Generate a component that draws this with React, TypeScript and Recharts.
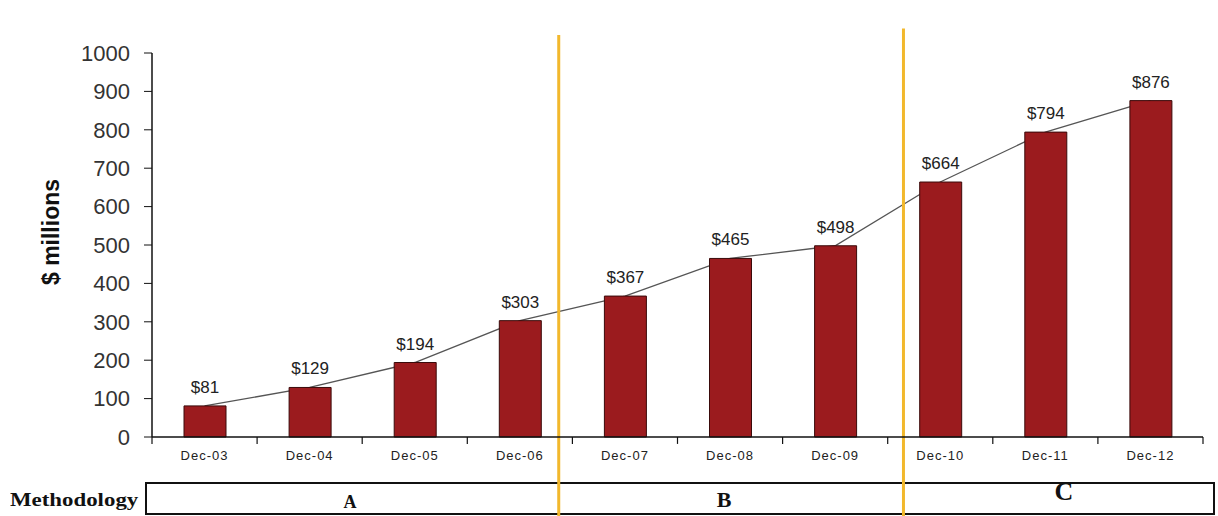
import React from 'react';
import {
    ComposedChart,
    Bar,
    Line,
    XAxis,
    YAxis,
    LabelList,
    ReferenceLine,
} from 'recharts';

// chart values
const PERIODS = ['Dec-03', 'Dec-04', 'Dec-05', 'Dec-06', 'Dec-07', 'Dec-08', 'Dec-09', 'Dec-10', 'Dec-11', 'Dec-12'];
const VALUES = [81, 129, 194, 303, 367, 465, 498, 664, 794, 876];
const Y_TICKS = [0, 100, 200, 300, 400, 500, 600, 700, 800, 900, 1000];

// methodology split (A / B / C) and where the orange dividers sit, in category units
const METHODS = ['A', 'B', 'C'];
const DIVIDERS = [
    { x: 3.87, top: 1047 },
    { x: 7.15, top: 1064 },
];

const COLORS = {
    bar: '#9B1B1E',
    barEdge: '#3A0A0A',
    line: '#555555',
    divider: '#F2B82C',
    text: '#222222',
};

const FONT = '"Liberation Sans", Arial, sans-serif';
const W = 1218;
const H = 516;
const M = { top: 53, right: 15, left: 0, bottom: 49 };
const Y_AXIS_W = 152;
const X_AXIS_H = 30;

// pos = centre of each category on a 0..N numeric scale (used for dividers and boundary ticks)
const data = PERIODS.map((p, i) => ({ period: p, value: VALUES[i], pos: i + 0.5 }));
const boundaries = Array.from({ length: PERIODS.length + 1 }, (_, i) => i);

const methodStyles: React.CSSProperties[] = [
    { left: 350, top: 493, fontSize: 18 },
    { left: 724, top: 489, fontSize: 22 },
    { left: 1064, top: 479, fontSize: 26 },
];

const App: React.FC = () => {
    return (
        <div style={{ position: 'absolute', left: 0, top: 0, width: W, height: H, background: '#fff' }}>
            {/* methodology strip under the chart */}
            <div
                style={{
                    position: 'absolute',
                    left: 10,
                    top: 490,
                    fontFamily: '"Liberation Serif", serif',
                    fontWeight: 700,
                    fontSize: 18,
                    transform: 'scaleX(1.27)',
                    transformOrigin: 'left center',
                    color: '#111',
                }}
            >
                Methodology
            </div>
            <div
                style={{
                    position: 'absolute',
                    left: 145,
                    top: 482,
                    width: 1066,
                    height: 29,
                    border: '2px solid #111',
                }}
            />
            {METHODS.map((m, i) => (
                <div
                    key={m}
                    style={{
                        position: 'absolute',
                        transform: 'translateX(-50%)',
                        fontFamily: '"Liberation Serif", serif',
                        fontWeight: 700,
                        color: '#111',
                        lineHeight: 1,
                        ...methodStyles[i],
                    }}
                >
                    {m}
                </div>
            ))}

            {/* trend line sits behind the bars, so it gets its own layer underneath */}
            <div style={{ position: 'absolute', left: 0, top: 0 }}>
                <ComposedChart
                    width={W}
                    height={H}
                    data={data}
                    margin={{ top: M.top, right: M.right, left: M.left + Y_AXIS_W, bottom: M.bottom + X_AXIS_H }}
                >
                    <XAxis dataKey="period" hide />
                    <YAxis domain={[0, 1000]} hide />
                    <Bar dataKey="value" fill="transparent" barSize={42} isAnimationActive={false} />
                    <Line
                        type="linear"
                        dataKey="value"
                        stroke={COLORS.line}
                        strokeWidth={1.3}
                        dot={false}
                        activeDot={false}
                        isAnimationActive={false}
                    />
                </ComposedChart>
            </div>

            <div style={{ position: 'absolute', left: 0, top: 0 }}>
                <ComposedChart width={W} height={H} data={data} margin={M}>
                    <XAxis
                        dataKey="period"
                        axisLine={{ stroke: '#111', strokeWidth: 1.5 }}
                        tickLine={false}
                        height={X_AXIS_H}
                        tick={{ fontSize: 13, fill: COLORS.text, letterSpacing: 1, fontFamily: FONT }}
                        tickMargin={8}
                        interval={0}
                    />
                    <XAxis
                        xAxisId="pos"
                        dataKey="pos"
                        type="number"
                        domain={[0, PERIODS.length]}
                        allowDataOverflow
                        hide
                    />
                    <YAxis
                        domain={[0, 1000]}
                        ticks={Y_TICKS}
                        width={Y_AXIS_W}
                        axisLine={{ stroke: '#111', strokeWidth: 1.5 }}
                        tickLine={{ stroke: '#111' }}
                        tickSize={8}
                        tickMargin={14}
                        tick={{ fontSize: 22, fill: '#333', fontFamily: FONT }}
                        label={{
                            value: '$ millions',
                            content: () => (
                                <text
                                    transform="translate(51,232) rotate(-90)"
                                    textAnchor="middle"
                                    dominantBaseline="central"
                                    style={{ fontSize: 23, fontWeight: 700, fill: '#111', fontFamily: FONT }}
                                >
                                    $ millions
                                </text>
                            ),
                        }}
                    />

                    {/* category boundary tick marks (Excel style) */}
                    {boundaries.map((b) => (
                        <ReferenceLine
                            key={`tick-${b}`}
                            xAxisId="pos"
                            segment={[{ x: b, y: 0 }, { x: b, y: -18 }]}
                            stroke="#111"
                            strokeWidth={1.2}
                            ifOverflow="visible"
                        />
                    ))}

                    <Bar
                        dataKey="value"
                        fill={COLORS.bar}
                        stroke={COLORS.barEdge}
                        strokeWidth={1}
                        barSize={42}
                        isAnimationActive={false}
                    >
                        <LabelList
                            dataKey="value"
                            position="top"
                            offset={13}
                            formatter={(v: any) => `$${v}`}
                            style={{ fontSize: 17, fill: COLORS.text, fontFamily: FONT }}
                        />
                    </Bar>

                    {DIVIDERS.map((d, i) => (
                        <ReferenceLine
                            key={`div-${i}`}
                            xAxisId="pos"
                            segment={[{ x: d.x, y: d.top }, { x: d.x, y: -210 }]}
                            stroke={COLORS.divider}
                            strokeWidth={3}
                            ifOverflow="visible"
                        />
                    ))}
                </ComposedChart>
            </div>
        </div>
    );
};

export default App;
